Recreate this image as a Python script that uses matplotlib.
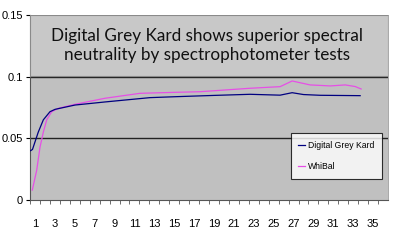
import matplotlib as mpl
mpl.use('Agg')
import matplotlib.pyplot as plt
from matplotlib.patches import Rectangle

mpl.rcParams.update({
    'font.family': ['Liberation Sans', 'DejaVu Sans'],
    'font.size': 7,
})

TITLE = 'Digital Grey Kard shows superior spectral\nneutrality by spectrophotometer tests'
CATEGORIES = list(range(1, 36))
TICK_LABELS = [str(c) if c % 2 == 1 else '' for c in CATEGORIES]

# Digital Grey Kard
dgk_x = [0.57, 0.75, 1.33, 1.84, 2.51, 3.02, 5.03, 8.05, 12.57, 15.29, 19.0,
         22.63, 25.65, 26.86, 28.0, 29.67, 31.0, 33.7]
dgk_y = [0.040, 0.041, 0.055, 0.065, 0.0716, 0.0735, 0.0770, 0.0795, 0.0830,
         0.0838, 0.0848, 0.0857, 0.0850, 0.0870, 0.0855, 0.0849, 0.0848, 0.0846]

# WhiBal
wb_x = [0.73, 1.17, 1.51, 1.84, 2.18, 2.68, 3.35, 5.03, 8.05, 11.57, 15.09,
        17.6, 22.63, 25.65, 26.86, 28.67, 30.7, 32.2, 33.2, 33.8]
wb_y = [0.008, 0.024, 0.043, 0.055, 0.065, 0.0716, 0.0743, 0.0776, 0.0825,
        0.0865, 0.0873, 0.0878, 0.0906, 0.0919, 0.0965, 0.0933, 0.0925, 0.0933,
        0.0920, 0.0900]

fig = plt.figure(figsize=(4, 2.42), dpi=100)
ax = fig.add_axes([0.075, 0.1736, 0.895, 0.7644])
ax.set_facecolor('#c0c0c0')

for v in [0.05, 0.1]:
    ax.axhline(v, color='#222222', lw=1.0, zorder=1)

ax.plot(dgk_x, dgk_y, color='#000080', lw=0.9, label='Digital Grey Kard', zorder=3)
ax.plot(wb_x, wb_y, color='#e64fe6', lw=0.9, label='WhiBal', zorder=2)

# title box across the top of the plot area
ax.add_patch(Rectangle((0.5, 0.1008), 36, 0.0492, facecolor='#c8c8c8',
                       edgecolor='#8a8a8a', lw=0.8, zorder=4))
ax.text(18.3, 0.1255, TITLE, ha='center', va='center', fontsize=12.3,
        family=['Lato', 'DejaVu Sans'], color='#111111', linespacing=1.25, zorder=5)

ax.set_xlim(0.5, 36.5)
ax.set_ylim(0, 0.15)
ax.set_yticks([0, 0.05, 0.1, 0.15])
ax.set_yticklabels(['0', '0.05', '0.1', '0.15'])
ax.set_xticks(CATEGORIES)
ax.set_xticklabels(TICK_LABELS)
ax.set_xticks([c + 0.5 for c in range(0, 36)], minor=True)
ax.tick_params(axis='x', which='major', length=0, pad=14, labelsize=8)
ax.tick_params(axis='x', which='minor', length=3, width=0.6, color='#555555')
ax.tick_params(axis='y', length=3, width=0.8, labelsize=8, pad=2)

for side in ['left', 'bottom']:
    ax.spines[side].set_color('#555555')
    ax.spines[side].set_linewidth(0.8)
for side in ['top', 'right']:
    ax.spines[side].set_color('#9a9a9a')
    ax.spines[side].set_linewidth(0.6)

leg = ax.legend(loc='lower right', bbox_to_anchor=(0.983, 0.1135), fontsize=6.2,
                frameon=True, fancybox=False, handlelength=0.8, handletextpad=0.3,
                borderpad=0.9, labelspacing=1.4, borderaxespad=0)
leg.get_frame().set_edgecolor('black')
leg.get_frame().set_linewidth(0.8)
leg.get_frame().set_facecolor('white')
leg.set_zorder(6)

fig.savefig('out.png', dpi=100)
